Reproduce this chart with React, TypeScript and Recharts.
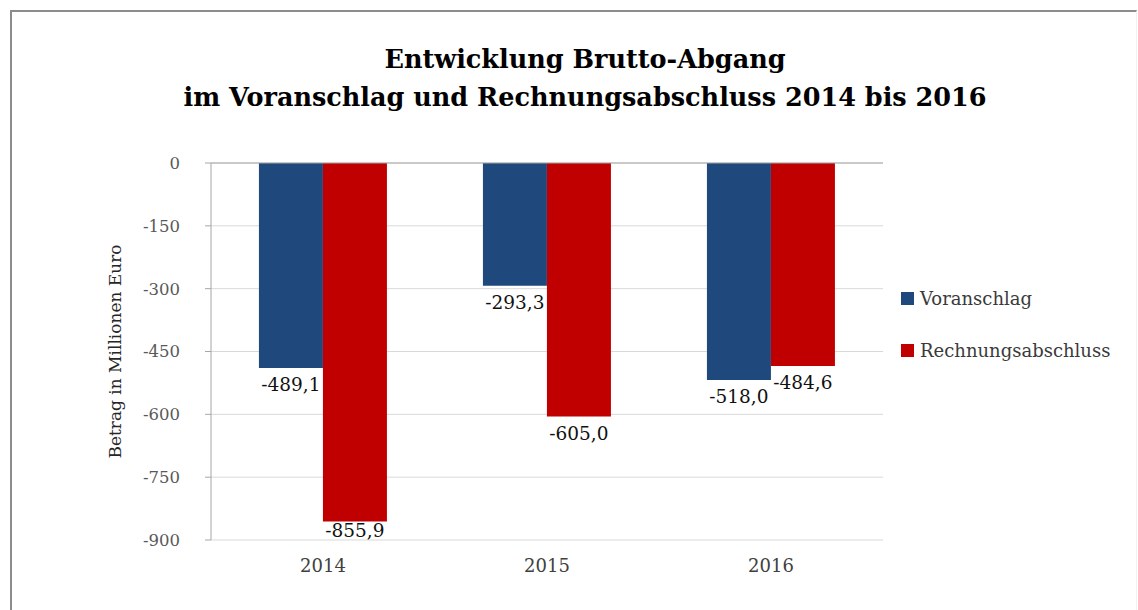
import React from "react";
import {
  BarChart,
  Bar,
  XAxis,
  YAxis,
  CartesianGrid,
  Legend,
  LabelList,
  ReferenceLine,
} from "recharts";

const years = ["2014", "2015", "2016"];
const voranschlag = [-489.1, -293.3, -518.0];
const rechnungsabschluss = [-855.9, -605.0, -484.6];
const yTicks = [0, -150, -300, -450, -600, -750, -900];
const seriesNames = ["Voranschlag", "Rechnungsabschluss"];

const data = years.map((year, i) => ({
  year,
  voranschlag: voranschlag[i],
  rechnungsabschluss: rechnungsabschluss[i],
}));

const W = 1138;
const H = 610;
const margin = { top: 163, right: 255, bottom: 40, left: 106 };
const xAxisHeight = 30;
const plotBottom = H - margin.bottom - xAxisHeight;

const FONT = '"DejaVu Serif", serif';
const AXIS_GRAY = "#a6a6a6";

// deutsches Zahlenformat: -489,1
const fmt = (v: number) => v.toFixed(1).replace(".", ",");

const ValueLabel = (props: any) => {
  const { x, y, width, height, value } = props;
  const end = Math.max(y, y + height);
  // Excel schiebt das Label innerhalb der Zeichenfläche
  const cy = Math.min(end + 17, plotBottom - 10);
  return (
    <text
      x={x + width / 2}
      y={cy}
      textAnchor="middle"
      dominantBaseline="central"
      fontFamily={FONT}
      fontSize={18.5}
      fill="#111"
    >
      {fmt(Number(value))}
    </text>
  );
};

// kleine Striche an den Kategoriegrenzen auf der Null-Linie
const BoundaryTick = (props: any) => {
  const { x, y, width, index, visibleTicksCount } = props;
  if (!width || !visibleTicksCount) return <g />;
  const half = width / visibleTicksCount / 2;
  return (
    <g>
      {index > 0 && (
        <line x1={x - half} x2={x - half} y1={y} y2={y + 6} stroke={AXIS_GRAY} />
      )}
      {index === visibleTicksCount - 1 && (
        <line x1={x + half} x2={x + half} y1={y} y2={y + 6} stroke={AXIS_GRAY} />
      )}
    </g>
  );
};

const YTitle = (props: any) => {
  const { viewBox } = props;
  const cx = viewBox.x + 9;
  const cy = viewBox.y + viewBox.height / 2;
  return (
    <text
      x={cx}
      y={cy}
      transform={`rotate(-90 ${cx} ${cy})`}
      textAnchor="middle"
      dominantBaseline="central"
      fontFamily={FONT}
      fontSize={17}
      fill="#262626"
    >
      Betrag in Millionen Euro
    </text>
  );
};

const renderLegend = (props: any) => {
  const items = [...(props.payload || [])].sort(
    (a: any, b: any) => seriesNames.indexOf(a.value) - seriesNames.indexOf(b.value)
  );
  return (
    <div style={{ fontFamily: FONT, fontSize: 18, color: "#3a3a3a" }}>
      {items.map((entry: any) => (
        <div
          key={entry.value}
          style={{ display: "flex", alignItems: "center", height: 26, marginBottom: 26 }}
        >
          <span
            style={{
              display: "inline-block",
              width: 13,
              height: 13,
              background: entry.color,
              marginRight: 6,
            }}
          />
          <span>{entry.value}</span>
        </div>
      ))}
    </div>
  );
};

const App = () => {
  return (
    <div
      style={{
        position: "absolute",
        left: 0,
        top: 0,
        width: W,
        height: H,
        overflow: "hidden",
        background: "#fff",
      }}
    >
      <div
        style={{
          position: "absolute",
          left: 10,
          top: 10,
          width: 1124,
          height: 640,
          borderLeft: "2px solid #8c8c8c",
          borderTop: "2px solid #8c8c8c",
          borderRight: "1px solid #f2f2f2",
        }}
      />
      <div
        style={{
          position: "absolute",
          left: 0,
          top: 40,
          width: 1170,
          textAlign: "center",
          fontFamily: FONT,
          fontWeight: "bold",
          fontSize: 25.5,
          lineHeight: "38px",
          color: "#000",
        }}
      >
        Entwicklung Brutto-Abgang
        <br />
        im Voranschlag und Rechnungsabschluss 2014 bis 2016
      </div>
      <BarChart
        width={W}
        height={H}
        data={data}
        margin={margin}
        barCategoryGap="21.4%"
        barGap={0}
        style={{ position: "absolute", left: 0, top: 0 }}
      >
        <CartesianGrid vertical={false} stroke="#d9d9d9" />
        <XAxis
          dataKey="year"
          height={xAxisHeight}
          axisLine={false}
          tickLine={false}
          tickSize={6}
          tickMargin={13}
          tick={{ fontFamily: FONT, fontSize: 18, fill: "#404040" }}
        />
        <XAxis
          xAxisId="top"
          dataKey="year"
          orientation="top"
          height={0}
          axisLine={false}
          tickLine={false}
          tickSize={0}
          tickMargin={0}
          tick={<BoundaryTick />}
        />
        <YAxis
          width={105}
          domain={[-900, 0]}
          ticks={yTicks}
          interval={0}
          axisLine={{ stroke: AXIS_GRAY }}
          tickLine={{ stroke: AXIS_GRAY }}
          tickSize={6}
          tickMargin={25}
          tick={{ fontFamily: FONT, fontSize: 16.5, fill: "#595959" }}
          label={{ content: <YTitle /> }}
        />
        <ReferenceLine y={0} stroke={AXIS_GRAY} />
        <Legend
          layout="vertical"
          align="center"
          verticalAlign="middle"
          itemSorter={null}
          wrapperStyle={{ left: 901, top: 285, width: 230 }}
          content={renderLegend}
        />
        <Bar
          dataKey="voranschlag"
          name="Voranschlag"
          fill="#1f497d"
          isAnimationActive={false}
        >
          <LabelList dataKey="voranschlag" content={<ValueLabel />} />
        </Bar>
        <Bar
          dataKey="rechnungsabschluss"
          name="Rechnungsabschluss"
          fill="#c00000"
          isAnimationActive={false}
        >
          <LabelList dataKey="rechnungsabschluss" content={<ValueLabel />} />
        </Bar>
      </BarChart>
    </div>
  );
};

export default App;
